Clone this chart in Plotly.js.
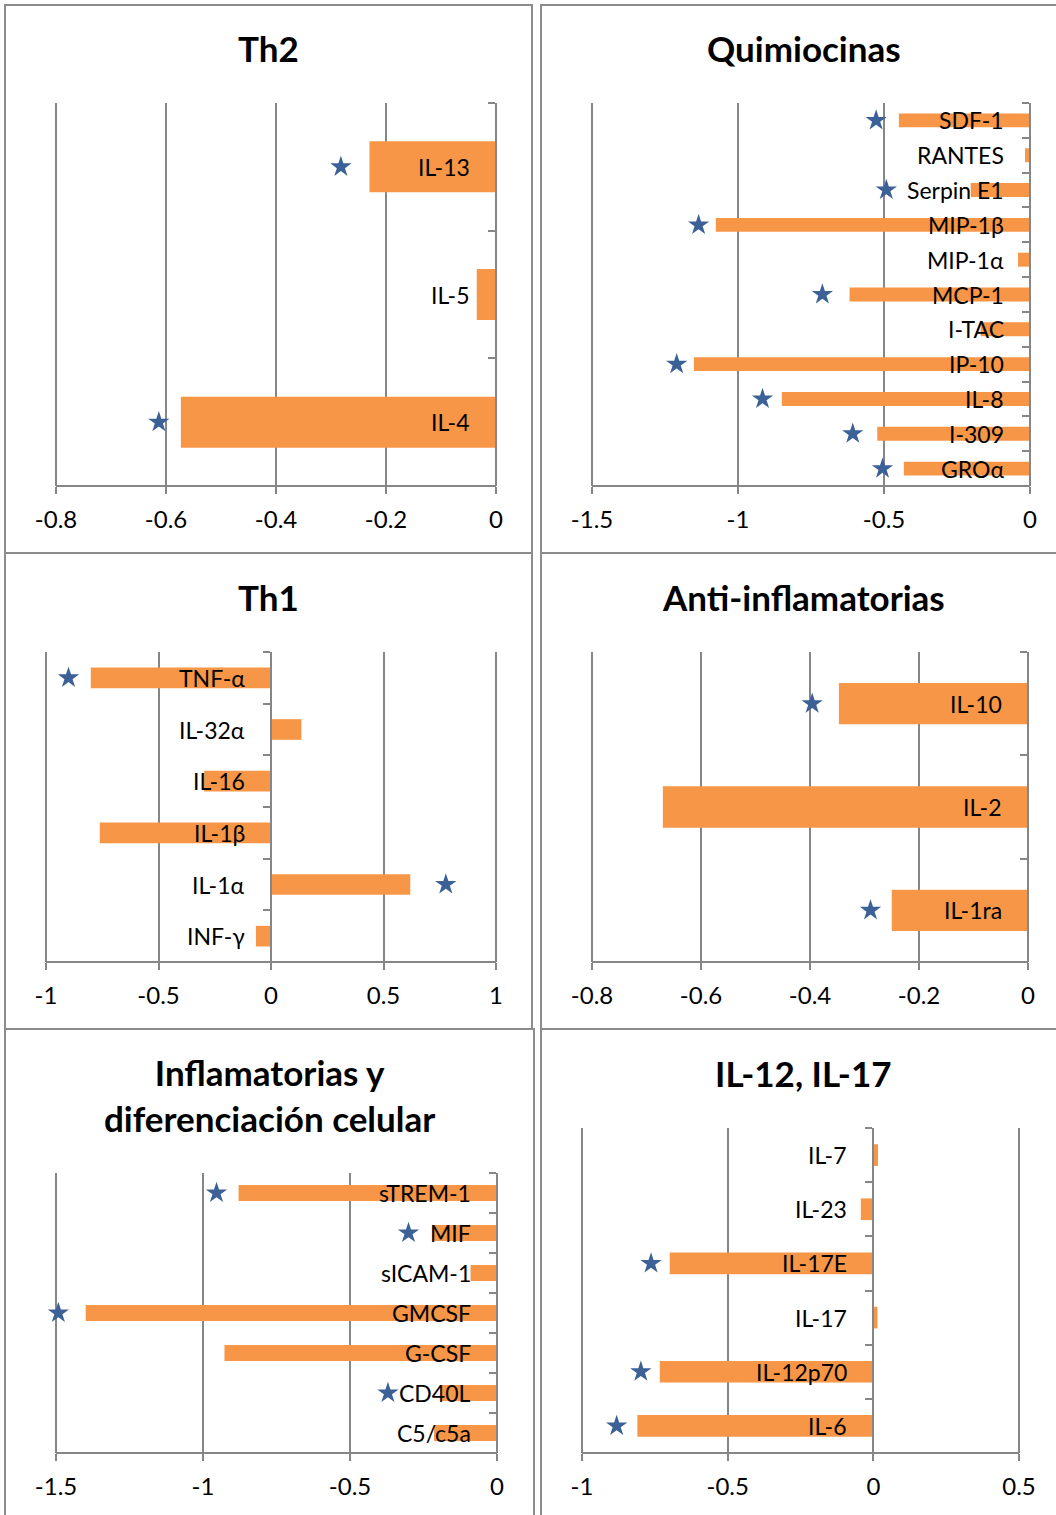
<!DOCTYPE html>
<html>
<head>
<meta charset="utf-8">
<script src="https://cdn.plot.ly/plotly-3.0.1.min.js"></script>
<style>
html,body{margin:0;padding:0;background:#fff;}
#chart{width:1056px;height:1515px;}
</style>
</head>
<body>
<div id="chart"></div>
<script>
// ---------- DATA (categories listed top to bottom) ----------
const th2Cats  = ['IL-13', 'IL-5', 'IL-4'];
const th2Vals  = [-0.23, -0.035, -0.573];
const th2Stars = [-0.282, null, -0.613];
const th2Ticks = [-0.8, -0.6, -0.4, -0.2, 0];
const th2TickText = ['-0.8', '-0.6', '-0.4', '-0.2', '0'];

const quimCats  = ['SDF-1', 'RANTES', 'Serpin E1', 'MIP-1β', 'MIP-1α', 'MCP-1', 'I-TAC', 'IP-10', 'IL-8', 'I-309', 'GROα'];
const quimVals  = [-0.449, -0.017, -0.203, -1.076, -0.041, -0.618, -0.169, -1.151, -0.850, -0.523, -0.432];
const quimStars = [-0.527, null, -0.492, -1.135, null, -0.711, null, -1.210, -0.916, -0.607, -0.505];
const quimTicks = [-1.5, -1, -0.5, 0];
const quimTickText = ['-1.5', '-1', '-0.5', '0'];

const th1Cats  = ['TNF-α', 'IL-32α', 'IL-16', 'IL-1β', 'IL-1α', 'INF-γ'];
const th1Vals  = [-0.801, 0.135, -0.297, -0.761, 0.619, -0.067];
const th1Stars = [-0.900, null, null, null, 0.777, null];
const th1Ticks = [-1, -0.5, 0, 0.5, 1];
const th1TickText = ['-1', '-0.5', '0', '0.5', '1'];

const antiCats  = ['IL-10', 'IL-2', 'IL-1ra'];
const antiVals  = [-0.347, -0.670, -0.250];
const antiStars = [-0.396, null, -0.289];
const antiTicks = [-0.8, -0.6, -0.4, -0.2, 0];
const antiTickText = ['-0.8', '-0.6', '-0.4', '-0.2', '0'];

const inflCats  = ['sTREM-1', 'MIF', 'sICAM-1', 'GMCSF', 'G-CSF', 'CD40L', 'C5/c5a'];
const inflVals  = [-0.879, -0.219, -0.090, -1.399, -0.927, -0.187, -0.214];
const inflStars = [-0.954, -0.301, null, -1.492, null, -0.371, null];
const inflTicks = [-1.5, -1, -0.5, 0];
const inflTickText = ['-1.5', '-1', '-0.5', '0'];

const il12Cats  = ['IL-7', 'IL-23', 'IL-17E', 'IL-17', 'IL-12p70', 'IL-6'];
const il12Vals  = [0.016, -0.043, -0.699, 0.014, -0.733, -0.810];
const il12Stars = [null, null, -0.763, null, -0.798, -0.881];
const il12Ticks = [-1, -0.5, 0, 0.5];
const il12TickText = ['-1', '-0.5', '0', '0.5'];

const titles = ['Th2', 'Quimiocinas', 'Th1', 'Anti-inflamatorias', 'Inflamatorias y<br>diferenciación celular', 'IL-12, IL-17'];

// ---------- LAYOUT / STYLE ----------
const W = 1056, H = 1515;
const FONT = 'Lato, "Open Sans", sans-serif';
const BAR = '#F79646', STAR = '#3C6196', GRID = '#868686', BORDER = '#8C8C8C';
const px = v => v / W;
const py = v => 1 - v / H;
const PAD = 3; // px of slack so edge gridlines are drawn

const panels = [
  {cats: th2Cats,  vals: th2Vals,  stars: th2Stars,  ticks: th2Ticks,  text: th2TickText,  range: [-0.8, 0], box: [56, 496, 103, 486],  title: [268, 48]},
  {cats: quimCats, vals: quimVals, stars: quimStars, ticks: quimTicks, text: quimTickText, range: [-1.5, 0], box: [592, 1030, 103, 486], title: [804, 48]},
  {cats: th1Cats,  vals: th1Vals,  stars: th1Stars,  ticks: th1Ticks,  text: th1TickText,  range: [-1, 1],   box: [46, 496, 652, 962],   title: [268, 597]},
  {cats: antiCats, vals: antiVals, stars: antiStars, ticks: antiTicks, text: antiTickText, range: [-0.8, 0], box: [592, 1028, 652, 962], title: [803, 597]},
  {cats: inflCats, vals: inflVals, stars: inflStars, ticks: inflTicks, text: inflTickText, range: [-1.5, 0], box: [56, 497, 1173, 1453], title: [269, 1095]},
  {cats: il12Cats, vals: il12Vals, stars: il12Stars, ticks: il12Ticks, text: il12TickText, range: [-1, 0.5], box: [582, 1019, 1128, 1453], title: [803, 1073]}
];

const borders = [
  [5, 532, 5, 553], [541, 1062, 5, 553],
  [5, 532, 553, 1029], [541, 1062, 553, 1029],
  [5, 534, 1029, 1522], [541, 1062, 1029, 1522]
];

const data = [];
const layout = {
  width: W, height: H,
  margin: {l: 0, r: 0, t: 0, b: 0},
  paper_bgcolor: '#fff', plot_bgcolor: 'rgba(0,0,0,0)',
  showlegend: false,
  font: {family: FONT, size: 23, color: '#000'},
  annotations: [],
  shapes: []
};

borders.forEach(b => {
  layout.shapes.push({type: 'rect', xref: 'paper', yref: 'paper',
    x0: px(b[0]), x1: px(b[1]), y0: py(b[2]), y1: py(b[3]),
    line: {color: BORDER, width: 2}, fillcolor: 'rgba(0,0,0,0)', layer: 'below'});
});

panels.forEach((p, i) => {
  const n = i + 1;
  const xa = 'x' + (n === 1 ? '' : n), ya = 'y' + (n === 1 ? '' : n);
  const xKey = 'xaxis' + (n === 1 ? '' : n), yKey = 'yaxis' + (n === 1 ? '' : n);
  const k = (p.range[1] - p.range[0]) / (p.box[1] - p.box[0]);
  const range = [p.range[0] - PAD * k, p.range[1] + PAD * k];
  const xd = [px(p.box[0] - PAD), px(p.box[1] + PAD)];
  const yd = [py(p.box[3]), py(p.box[2])];
  const zeroPos = xd[0] + (0 - range[0]) / (range[1] - range[0]) * (xd[1] - xd[0]);

  data.push({type: 'bar', orientation: 'h', x: p.vals, y: p.cats, xaxis: xa, yaxis: ya,
    width: 0.4, marker: {color: BAR}, hoverinfo: 'x+y'});
  data.push({type: 'scatter', mode: 'markers', x: p.stars, y: p.cats, xaxis: xa, yaxis: ya,
    cliponaxis: false, marker: {symbol: 'star', size: 16, color: STAR}, hoverinfo: 'x+y'});

  layout[xKey] = {domain: xd, anchor: ya, range: range, fixedrange: true,
    tickmode: 'array', tickvals: p.ticks, ticktext: p.text,
    showgrid: true, gridcolor: GRID, gridwidth: 2, zeroline: false,
    showline: false,
    ticks: 'outside', ticklen: 7, tickcolor: GRID, tickwidth: 2,
    ticklabelstandoff: 5,
    tickfont: {family: FONT, size: 24, color: '#000'}};
  layout[yKey] = {domain: yd, anchor: 'free', position: zeroPos, side: 'left',
    type: 'category', categoryorder: 'array', categoryarray: p.cats,
    range: [p.cats.length - 0.5, -0.5], fixedrange: true,
    showgrid: false, zeroline: false, showticklabels: false,
    showline: true, linecolor: GRID, linewidth: 2,
    ticks: 'outside', tickson: 'boundaries', ticklen: 7, tickcolor: GRID, tickwidth: 2};

  // horizontal category-axis baseline drawn across the tick span
  layout.shapes.push({type: 'line', xref: xa, yref: 'paper',
    x0: p.range[0], x1: p.range[1], y0: yd[0], y1: yd[0],
    line: {color: GRID, width: 2}});

  p.cats.forEach(c => {
    layout.annotations.push({xref: xa, yref: ya, x: 0, y: c, text: c, showarrow: false,
      xanchor: 'right', yanchor: 'middle', xshift: -24,
      font: {family: FONT, size: 23, color: '#000'}});
  });

  layout.annotations.push({xref: 'paper', yref: 'paper', x: px(p.title[0]), y: py(p.title[1]),
    text: '<b>' + titles[i] + '</b>', showarrow: false, xanchor: 'center', yanchor: 'middle',
    font: {family: FONT, size: 35, color: '#000'}});
});

Plotly.newPlot('chart', data, layout, {displayModeBar: false, staticPlot: true});
</script>
</body>
</html>
